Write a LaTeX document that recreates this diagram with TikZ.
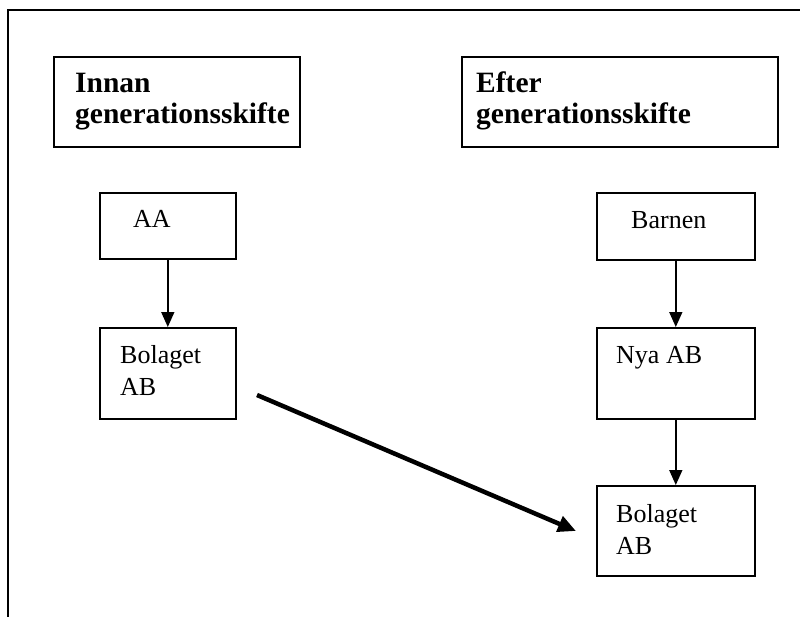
\documentclass[tikz,border=0pt]{standalone}
\usepackage{fontspec}
\setmainfont{Liberation Serif}
\usetikzlibrary{arrows.meta}
\begin{document}
\begin{tikzpicture}[x=1pt,y=-1pt,
  box/.style={draw=black,line width=1.6pt,rectangle,inner sep=0pt,anchor=north west},
  reg/.style={anchor=base west,inner sep=0pt,align=left,font=\fontsize{26}{32}\selectfont},
  hd/.style={anchor=base west,inner sep=0pt,align=left,font=\fontsize{29.5}{31}\selectfont\bfseries},
  thin/.style={line width=1.6pt,-{Triangle[length=15pt,width=13pt]}},
  thick/.style={line width=4.5pt,-{Triangle[length=18pt,width=16pt]}}]
\useasboundingbox (0,0) rectangle (800,616);
% outer frame (cut at right and bottom)
\draw[line width=2pt] (8,620) -- (8,10) -- (806,10);
% boxes
\node[box,minimum width=246pt,minimum height=90pt] (innan) at (53,56) {};
\node[box,minimum width=316pt,minimum height=90pt] (efter) at (461,56) {};
\node[box,minimum width=136pt,minimum height=66pt] (aa) at (99,192) {};
\node[box,minimum width=158pt,minimum height=67pt] (barnen) at (596,192) {};
\node[box,minimum width=136pt,minimum height=91pt] (bol1) at (99,327) {};
\node[box,minimum width=158pt,minimum height=91pt] (nya) at (596,327) {};
\node[box,minimum width=158pt,minimum height=90pt] (bol2) at (596,485) {};
% texts (base anchor = last line)
\node[hd] (innanT) at (75,123) {Innan\\generationsskifte};
\node[hd] (efterT) at (476,123) {Efter\\generationsskifte};
\node[reg] (aaT) at (133,227) {AA};
\node[reg] (barnenT) at (631,228) {Barnen};
\node[reg] (bol1T) at (120,395) {Bolaget\\AB};
\node[reg] (nyaT) at (616,363) {Nya AB};
\node[reg] (bol2T) at (616,554) {Bolaget\\AB};
% connectors
\draw[thin] (aa.south) -- (bol1.north);
\draw[thin] (barnen.south) -- (nya.north);
\draw[thin] (nya.south) -- (bol2.north);
\coordinate (start) at (257,395);
\coordinate (end) at (576,531);
\draw[thick] (start) -- (end);
\end{tikzpicture}
\end{document}
